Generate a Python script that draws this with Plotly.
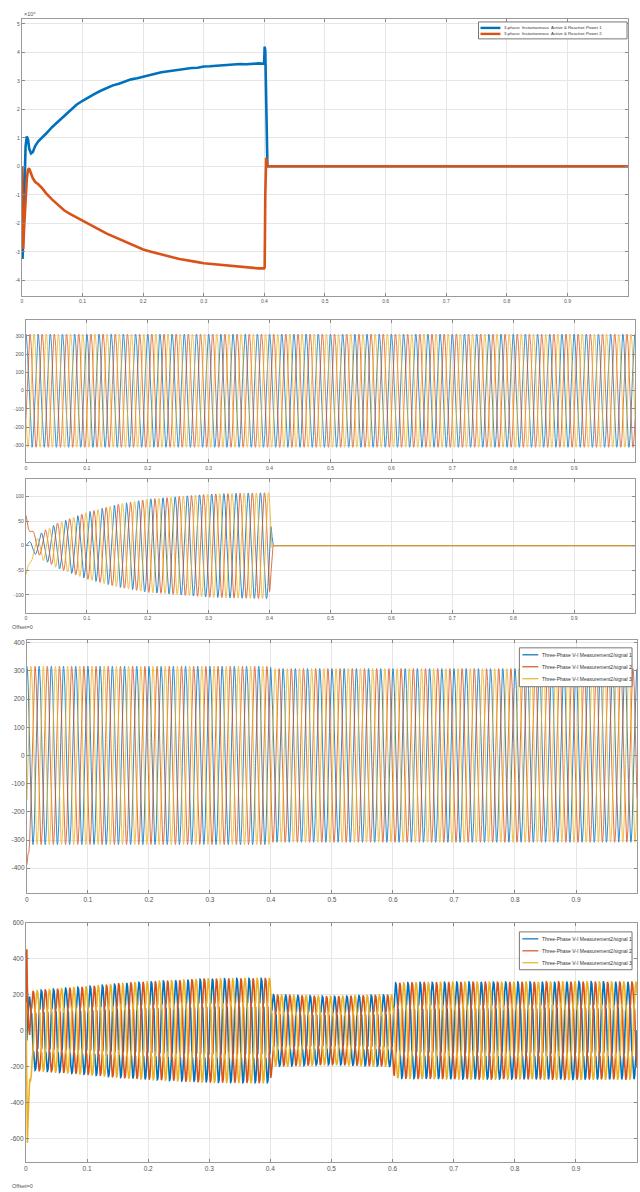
import numpy as np
import plotly.graph_objects as go

# ---------------- data ----------------
FREQ = 50.0  # Hz, fundamental of all waveforms

# Panel 1: 3-phase instantaneous active & reactive power (x10^4)
P1_T = [0, 0.001, 0.002, 0.004, 0.006, 0.008, 0.010, 0.012, 0.015, 0.018, 0.022, 0.027, 0.033,
        0.04, 0.05, 0.06, 0.07, 0.08, 0.09, 0.10, 0.11, 0.12, 0.13, 0.14, 0.15, 0.16, 0.17, 0.18,
        0.19, 0.20, 0.21, 0.22, 0.23, 0.24, 0.25, 0.26, 0.27, 0.28, 0.29, 0.30, 0.31, 0.32, 0.33,
        0.34, 0.35, 0.36, 0.37, 0.38, 0.39, 0.3995, 0.4005, 0.4015, 0.403, 0.404, 0.405, 1.0]
P1_ACTIVE = [0.0, -3.25, -2.6, -0.9, 0.7, 1.05, 0.95, 0.62, 0.45, 0.5, 0.72, 0.88, 1.0,
             1.15, 1.38, 1.58, 1.78, 1.97, 2.16, 2.3, 2.43, 2.54, 2.65, 2.74, 2.84, 2.9, 2.98, 3.05,
             3.09, 3.15, 3.2, 3.25, 3.3, 3.33, 3.37, 3.4, 3.42, 3.45, 3.46, 3.5, 3.51, 3.53, 3.54,
             3.56, 3.58, 3.59, 3.58, 3.6, 3.61, 3.6, 4.2, 4.05, 2.0, 0.3, 0.0, 0.0]
P1_REACTIVE = [0.0, -1.5, -2.9, -2.0, -1.0, -0.45, -0.12, -0.07, -0.25, -0.42, -0.55, -0.63, -0.76,
               -0.95, -1.17, -1.37, -1.55, -1.68, -1.8, -1.9, -2.03, -2.14, -2.25, -2.36, -2.45,
               -2.55, -2.65, -2.74, -2.83, -2.92, -2.98, -3.04, -3.1, -3.15, -3.2, -3.25, -3.28,
               -3.32, -3.36, -3.4, -3.42, -3.45, -3.47, -3.49, -3.52, -3.53, -3.55, -3.56, -3.58,
               -3.58, -3.55, -1.0, 0.3, 0.15, 0.0, 0.0]
P1_NAMES = ["3-phase  Instantaneous  Active & Reactive Power 1",
            "3-phase  Instantaneous  Active & Reactive Power 2"]

# Panel 2: source voltages
V2_AMP = 310
V2_PHASE_DEG = [0, -120, 120]

# Panel 3: compensator currents (envelope + decaying DC at start)
I3_ENV_T = [0, 0.02, 0.05, 0.10, 0.15, 0.20, 0.25, 0.30, 0.35, 0.40, 0.405, 1.0]
I3_ENV = [3, 22, 45, 68, 84, 95, 100, 105, 107, 108, 0, 0]
I3_DC0 = [0, 65, -62]
I3_TAU = 0.008
I3_PHASE_DEG = [-90, 150, 30]

# Panel 4: load voltages
V4_AMP_T = [0, 0.40, 0.401, 1.0]
V4_AMP = [316, 316, 308, 308]
V4_PHASE_DEG = [0, 120, -120]
V4_DC0 = [0, -230, 0]
V4_TAU = 0.0015
V4_DIP_T = [0, 0.3995, 0.401, 0.404, 0.407, 1.0]
V4_DIP_BLUE = [0, 0, -35, -50, 0, 0]

# Panel 5: load currents (envelope, harmonics, start transient)
I5_ENV_T = [0, 0.01, 0.05, 0.10, 0.15, 0.20, 0.25, 0.30, 0.35, 0.40, 0.403, 0.45, 0.50, 0.55,
            0.60, 0.603, 0.70, 0.80, 0.90, 1.0]
I5_ENV = [205, 220, 232, 245, 260, 272, 280, 288, 290, 290, 200, 195, 190, 195, 200, 265, 270,
          270, 272, 270]
I5_HARM_ORDER = [1, 5, 7, 11, 13]
I5_HARM_MAG = [1.0, 0.14, 0.08, 0.06, 0.05]
I5_PHASE_DEG = [0, -120, 120]
I5_TR_T = [0, 0.0008, 0.0015, 0.0025, 0.004, 0.007, 0.010, 1.0]
I5_TR = [[0, -80, -150, -100, -40, -10, 0, 0],
         [0, 450, 660, 380, 160, 30, 0, 0],
         [0, -320, -560, -720, -350, -80, 0, 0]]

SIG_NAMES = ["Three-Phase V-I Measurement2/signal 1",
             "Three-Phase V-I Measurement2/signal 2",
             "Three-Phase V-I Measurement2/signal 3"]

X_TICKS = [0, 0.1, 0.2, 0.3, 0.4, 0.5, 0.6, 0.7, 0.8, 0.9]
Y1_TICKS = [5, 4, 3, 2, 1, 0, -1, -2, -3, -4]
Y2_TICKS = [300, 200, 100, 0, -100, -200, -300]
Y3_TICKS = [100, 50, 0, -50, -100]
Y4_TICKS = [400, 300, 200, 100, 0, -100, -200, -300, -400]
Y5_TICKS = [600, 400, 200, 0, -200, -400, -600]

# ---------------- styling ----------------
BLUE, ORANGE, YELLOW = "#0072BD", "#D95319", "#EDB120"
COLORS = [BLUE, ORANGE, YELLOW]
FONT = "Liberation Sans Narrow, Liberation Sans, Arial, sans-serif"
W, H = 640, 1192


def px(x):
    return x / W


def py(y):
    return 1 - y / H


# ---------------- build waveforms ----------------
t = np.round(np.arange(0, 1.00001, 0.0001), 4)
w = 2 * np.pi * FREQ

v2 = [V2_AMP * np.cos(w * t + np.radians(p)) for p in V2_PHASE_DEG]

env3 = np.interp(t, I3_ENV_T, I3_ENV)
i3 = []
for k in range(3):
    s = env3 * np.cos(w * t + np.radians(I3_PHASE_DEG[k])) + I3_DC0[k] * np.exp(-t / I3_TAU)
    s = np.where(t > 0.405, 0.0, s)
    i3.append(s)

amp4 = np.interp(t, V4_AMP_T, V4_AMP)
v4 = []
for k in range(3):
    s = amp4 * np.cos(w * t + np.radians(V4_PHASE_DEG[k])) + V4_DC0[k] * np.exp(-t / V4_TAU)
    if k == 0:
        s = s + np.interp(t, V4_DIP_T, V4_DIP_BLUE)
    v4.append(s)

env5 = np.interp(t, I5_ENV_T, I5_ENV)
i5 = []
for k in range(3):
    th = w * t + np.radians(I5_PHASE_DEG[k])
    u = sum(m * np.sin(h * th) for h, m in zip(I5_HARM_ORDER, I5_HARM_MAG))
    u = u / 1.05
    s = env5 * u + np.interp(t, I5_TR_T, I5_TR[k])
    i5.append(s)

# ---------------- figure ----------------
fig = go.Figure()

for vals, name, col in zip([P1_ACTIVE, P1_REACTIVE], P1_NAMES, [BLUE, ORANGE]):
    fig.add_trace(go.Scatter(x=P1_T, y=vals, mode="lines", name=name, showlegend=False,
                             line=dict(color=col, width=2.6), xaxis="x", yaxis="y"))

for k in range(3):
    fig.add_trace(go.Scatter(x=t, y=np.round(v2[k], 1), mode="lines", showlegend=False,
                             line=dict(color=COLORS[k], width=1), opacity=0.75,
                             xaxis="x2", yaxis="y2"))
for k in range(3):
    fig.add_trace(go.Scatter(x=t, y=np.round(i3[k], 2), mode="lines", showlegend=False,
                             line=dict(color=COLORS[k], width=1), opacity=0.8,
                             xaxis="x3", yaxis="y3"))
for k in range(3):
    fig.add_trace(go.Scatter(x=t, y=np.round(v4[k], 1), mode="lines", name=SIG_NAMES[k],
                             showlegend=False, line=dict(color=COLORS[k], width=1), opacity=0.8,
                             xaxis="x4", yaxis="y4"))
for k in range(3):
    fig.add_trace(go.Scatter(x=t, y=np.round(i5[k], 1), mode="lines", name=SIG_NAMES[k],
                             showlegend=False, line=dict(color=COLORS[k], width=1.6),
                             xaxis="x5", yaxis="y5"))

PANELS = [
    # (x0, x1, y0, y1) in pixels, y ticks, y range, tick font size
    ((20, 628, 15, 293), Y1_TICKS, [-4.55, 5.17], 5),
    ((24, 635, 317, 460), Y2_TICKS, [-393, 387], 5),
    ((24, 635, 477, 611), Y3_TICKS, [-137, 135], 5),
    ((25, 637, 638, 892), Y4_TICKS, [-488, 410], 6.5),
    ((24, 637, 922, 1162), Y5_TICKS, [-733, 600], 6.5),
]

layout = dict(width=W, height=H, margin=dict(l=0, r=0, t=0, b=0),
              paper_bgcolor="white", plot_bgcolor="white", showlegend=False,
              font=dict(family=FONT, color="#444"))

common = dict(showgrid=True, gridcolor="#e6e6e6", gridwidth=1, zeroline=False,
              showline=True, linecolor="#9a9a9a", linewidth=1.2, mirror="allticks",
              ticks="inside", ticklen=3, tickcolor="#8a8a8a", tickwidth=1)

for i, ((x0, x1, y0, y1), yt, yr, fs) in enumerate(PANELS, start=1):
    sx = "" if i == 1 else str(i)
    layout["xaxis" + sx] = dict(domain=[px(x0), px(x1)], anchor="y" + sx, range=[0, 1],
                                tickvals=X_TICKS, ticktext=[f"{v:g}" for v in X_TICKS],
                                tickfont=dict(size=fs, color="#555", family=FONT), **common)
    layout["yaxis" + sx] = dict(domain=[py(y1), py(y0)], anchor="x" + sx, range=yr,
                                tickvals=yt, ticktext=[str(v) for v in yt],
                                tickfont=dict(size=fs, color="#555", family=FONT), **common)

fig.update_layout(**layout)

ann = [
    dict(text="\u00d710\u2074", x=px(20), y=py(15), xanchor="left", yanchor="bottom"),
    dict(text="Offset=0", x=px(8), y=py(625), xanchor="left", yanchor="middle"),
    dict(text="Offset=0", x=px(8), y=py(1186), xanchor="left", yanchor="middle"),
]
for a in ann:
    fig.add_annotation(xref="paper", yref="paper", showarrow=False,
                       font=dict(size=5.5, color="#555", family=FONT), **a)

# manual legends (boxes, samples, labels)
LEGENDS = [
    ((478, 627, 18, 35), [24, 30], P1_NAMES, [BLUE, ORANGE], 2.4, 4.3, (480, 500)),
    ((519, 632, 646, 685), [653, 665, 677], SIG_NAMES, COLORS, 1.2, 5, (522, 538)),
    ((519, 632, 931, 969), [938, 950, 962], SIG_NAMES, COLORS, 1.2, 5, (522, 538)),
]
for (bx0, bx1, by0, by1), ys, names, cols, lw, fs, (lx0, lx1) in LEGENDS:
    fig.add_shape(type="rect", xref="paper", yref="paper", x0=px(bx0), x1=px(bx1),
                  y0=py(by1), y1=py(by0), line=dict(color="#777", width=1), fillcolor="white")
    for yy, nm, c in zip(ys, names, cols):
        fig.add_shape(type="line", xref="paper", yref="paper", x0=px(lx0), x1=px(lx1),
                      y0=py(yy), y1=py(yy), line=dict(color=c, width=lw))
        fig.add_annotation(xref="paper", yref="paper", x=px(lx1 + 2), y=py(yy), text=nm,
                           showarrow=False, xanchor="left", yanchor="middle",
                           font=dict(size=fs, color="#333", family=FONT))

fig.write_html("out.html")
